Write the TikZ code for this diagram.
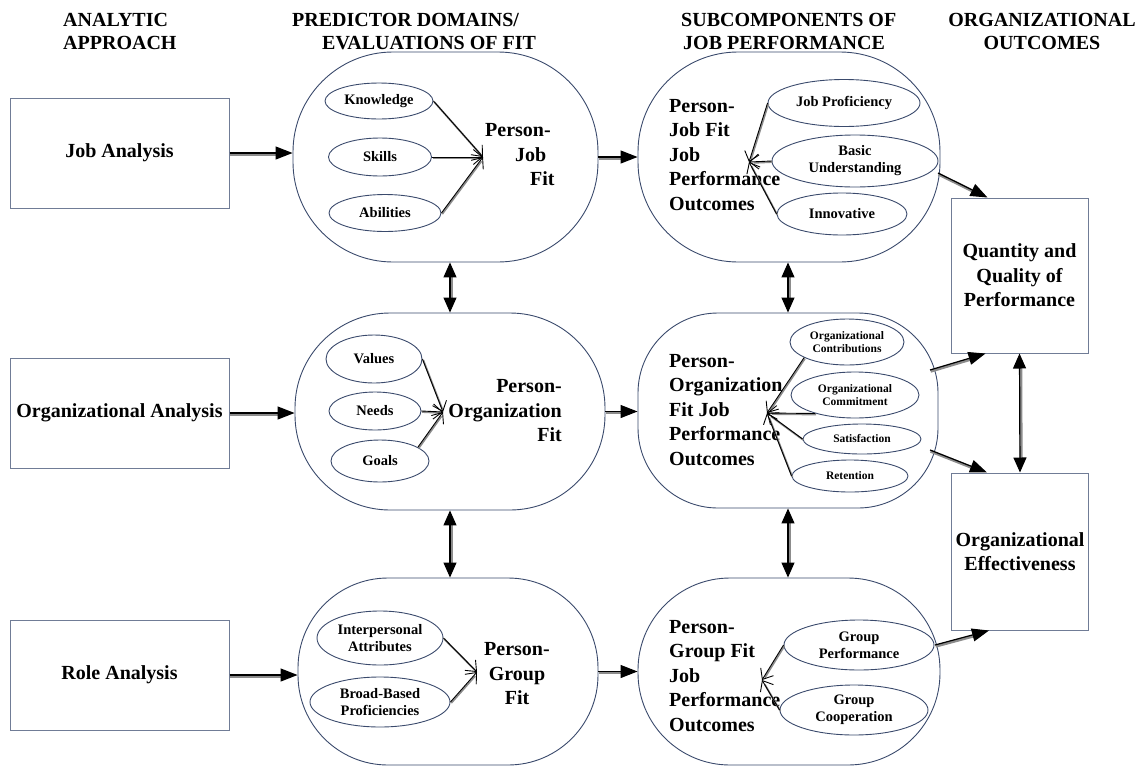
\documentclass[tikz,border=0pt]{standalone}
\usepackage{fontspec}
\setmainfont{Liberation Serif}
\usetikzlibrary{arrows.meta,shapes.geometric,calc}

\definecolor{rim}{RGB}{58,74,108}
\definecolor{boxrim}{RGB}{112,124,150}
\definecolor{shadowgray}{RGB}{140,140,140}

\tikzset{
  headfont/.style={font=\bfseries\fontsize{20}{23}\selectfont, inner sep=0pt},
  bigtext/.style={font=\bfseries\fontsize{20}{24.5}\selectfont, inner sep=0pt},
  itemtext/.style={font=\bfseries\fontsize{14.5}{17}\selectfont, align=center, inner sep=0pt},
  minitext/.style={font=\bfseries\fontsize{11.5}{13.5}\selectfont, align=center, inner sep=0pt},
  sourcebox/.style={draw=boxrim, line width=1pt, rectangle, bigtext, align=center},
  fitshape/.style={draw=rim, line width=0.9pt, rectangle, inner sep=0pt},
  facet/.style={draw=rim, line width=0.9pt, ellipse, inner sep=0pt},
  flowarrow/.style={line width=1.2pt, -{Triangle[length=17pt,width=13pt]},
    preaction={draw=shadowgray, line width=3pt, arrows=-, shorten >=14pt,
      transform canvas={shift={(0.6pt,-1.2pt)}}}},
  linkarrow/.style={line width=1.2pt,
    {Triangle[length=15pt,width=13pt]}-{Triangle[length=15pt,width=13pt]},
    preaction={draw=shadowgray, line width=3pt, arrows=-, shorten >=13pt, shorten <=13pt,
      transform canvas={shift={(1.2pt,-0.6pt)}}}},
  feedarrow/.style={line width=0.9pt, -{Straight Barb[length=9pt,width=15pt]},
    preaction={draw=shadowgray, line width=1.8pt, arrows=-, shorten >=4pt,
      transform canvas={shift={(0.8pt,-1pt)}}}},
}

\begin{document}
\begin{tikzpicture}[x=1pt,y=-1pt]
\useasboundingbox (0,0) rectangle (1141,769);

% column headings
\node[headfont, align=left, anchor=west] (hA) at (63,31.5) {ANALYTIC\\APPROACH};
\node[headfont, align=left, anchor=west] (hB) at (292,31.5) {PREDICTOR DOMAINS/\\\hspace*{30pt}EVALUATIONS OF FIT};
\node[headfont, align=left, anchor=west] (hC) at (681,31.5) {SUBCOMPONENTS OF\\\hspace*{2pt}JOB PERFORMANCE};
\node[headfont, align=center] (hD) at (1042,31.5) {ORGANIZATIONAL\\OUTCOMES};

% analytic approaches
\node[sourcebox, minimum width=219pt, minimum height=110pt] (ja) at (119.5,153) {Job Analysis};
\node[sourcebox, minimum width=219pt, minimum height=110pt] (oa) at (119.5,413) {Organizational Analysis};
\node[sourcebox, minimum width=219pt, minimum height=110pt] (ra) at (119.5,675) {Role Analysis};

% evaluations of fit
\node[fitshape, rounded corners=100pt, minimum width=305pt, minimum height=210pt] (pj) at (445.5,157) {};
\node[fitshape, rounded corners=95pt, minimum width=310pt, minimum height=197pt] (po) at (450,411.5) {};
\node[fitshape, rounded corners=90pt, minimum width=300pt, minimum height=187pt] (pg) at (448,671.5) {};

% job performance outcomes
\node[fitshape, rounded corners=100pt, minimum width=302pt, minimum height=210pt] (pjo) at (789,157) {};
\node[fitshape, rounded corners=80pt, minimum width=300pt, minimum height=195pt] (poo) at (788,410.5) {};
\node[fitshape, rounded corners=92pt, minimum width=302pt, minimum height=187pt] (pgo) at (789,671.5) {};

% organizational outcomes
\node[sourcebox, minimum width=137pt, minimum height=155pt] (qq) at (1019.5,275.5) {Quantity and\\Quality of\\Performance};
\node[sourcebox, minimum width=137pt, minimum height=157pt] (oe) at (1020,551.5) {Organizational\\Effectiveness};

% titles inside the large shapes
\node[bigtext, align=left, anchor=west] (pjt) at (485,155) {Person-\\\hspace*{30pt}Job\\\hspace*{45pt}Fit};
\node[bigtext, align=right, anchor=east] (pot) at (562,411) {Person-\\Organization\\Fit};
\node[bigtext, align=center] (pgt) at (517,674) {Person-\\Group\\Fit};
\node[bigtext, align=left, anchor=west] (pjot) at (669,155) {Person-\\Job Fit\\Job\\Performance\\Outcomes};
\node[bigtext, align=left, anchor=west] (poot) at (669,410) {Person-\\Organization\\Fit Job\\Performance\\Outcomes};
\node[bigtext, align=left, anchor=west] (pgot) at (669,676) {Person-\\Group Fit\\Job\\Performance\\Outcomes};

% predictor domains
\node[facet, itemtext, minimum width=108pt, minimum height=36pt] (kn) at (379,101) {Knowledge};
\node[facet, itemtext, minimum width=103pt, minimum height=38pt] (sk) at (380,157) {Skills};
\node[facet, itemtext, minimum width=112pt, minimum height=37pt] (ab) at (385,213) {Abilities};
\node[facet, itemtext, minimum width=96pt, minimum height=48pt] (va) at (374,359) {Values};
\node[facet, itemtext, minimum width=92pt, minimum height=38pt] (ne) at (375,411) {Needs};
\node[facet, itemtext, minimum width=98pt, minimum height=42pt] (go) at (380,461) {Goals};
\node[facet, itemtext, minimum width=126pt, minimum height=54pt] (ip) at (380,638) {Interpersonal\\Attributes};
\node[facet, itemtext, minimum width=140pt, minimum height=50pt] (bb) at (380,702) {Broad-Based\\Proficiencies};

% performance subcomponents
\node[facet, itemtext, minimum width=152pt, minimum height=47pt] (jp) at (844,103) {Job Proficiency};
\node[facet, itemtext, minimum width=166pt, minimum height=52pt] (bu) at (855,161) {Basic\\Understanding};
\node[facet, itemtext, minimum width=130pt, minimum height=42pt] (in) at (842,214) {Innovative};
\node[facet, minitext, minimum width=114pt, minimum height=46pt] (oc) at (847,342) {Organizational\\Contributions};
\node[facet, minitext, minimum width=128pt, minimum height=46pt] (om) at (855,395) {Organizational\\Commitment};
\node[facet, minitext, minimum width=118pt, minimum height=30pt] (sa) at (862,439) {Satisfaction};
\node[facet, minitext, minimum width=116pt, minimum height=32pt] (re) at (850,476) {Retention};
\node[facet, itemtext, minimum width=150pt, minimum height=50pt] (gp) at (859,645) {Group\\Performance};
\node[facet, itemtext, minimum width=148pt, minimum height=50pt] (gc) at (854,710) {Group\\Cooperation};

% convergence points
\coordinate (c1) at (483,157);
\coordinate (c2) at (443,412);
\coordinate (c3) at (477,672);
\coordinate (c4) at (749,162);
\coordinate (c5) at (767,413);
\coordinate (c6) at (762,680);

% exits towards the organizational outcomes
\coordinate (o1) at (938,173);
\coordinate (o2) at (930,370);
\coordinate (o3) at (930,450);
\coordinate (o4) at (935,645);

% main flow
\draw[flowarrow] (ja.east) -- (ja.east -| pj.west);
\draw[flowarrow] (oa.east) -- (oa.east -| po.west);
\draw[flowarrow] (ra.east) -- (ra.east -| pg.west);
\draw[flowarrow] (pj.east) -- (pj.east -| pjo.west);
\draw[flowarrow] (po.east) -- (po.east -| poo.west);
\draw[flowarrow] (pg.east) -- (pg.east -| pgo.west);
\draw[flowarrow] (o1) -- ($(qq.north west)+(37,0)$);
\draw[flowarrow] (o2) -- ($(qq.south west)+(35,0)$);
\draw[flowarrow] (o3) -- ($(oe.north west)+(36,0)$);
\draw[flowarrow] (o4) -- ($(oe.south west)+(38,0)$);

% two-way links
\draw[linkarrow] (po.north) -- (po.north |- pj.south);
\draw[linkarrow] (po.south) -- (po.south |- pg.north);
\draw[linkarrow] (poo.north) -- (poo.north |- pjo.south);
\draw[linkarrow] (poo.south) -- (poo.south |- pgo.north);
\draw[linkarrow] (qq.south) -- (oe.north);

% domains feeding each fit
\draw[feedarrow] (kn.east) -- (c1);
\draw[feedarrow] (sk.east) -- (c1);
\draw[feedarrow] (ab.east) -- (c1);
\draw[feedarrow] (va.east) -- (c2);
\draw[feedarrow] (ne.east) -- (c2);
\draw[feedarrow] (go.20) -- (c2);
\draw[feedarrow] (ip.east) -- (c3);
\draw[feedarrow] (bb.east) -- (c3);

% subcomponents feeding each outcome
\draw[feedarrow] (jp.west) -- (c4);
\draw[feedarrow] (bu.west) -- (c4);
\draw[feedarrow] (in.west) -- (c4);
\draw[feedarrow] (oc.200) -- (c5);
\draw[feedarrow] (om.205) -- (c5);
\draw[feedarrow] (sa.west) -- (c5);
\draw[feedarrow] (re.west) -- (c5);
\draw[feedarrow] (gp.west) -- (c6);
\draw[feedarrow] (gc.west) -- (c6);
\end{tikzpicture}
\end{document}
